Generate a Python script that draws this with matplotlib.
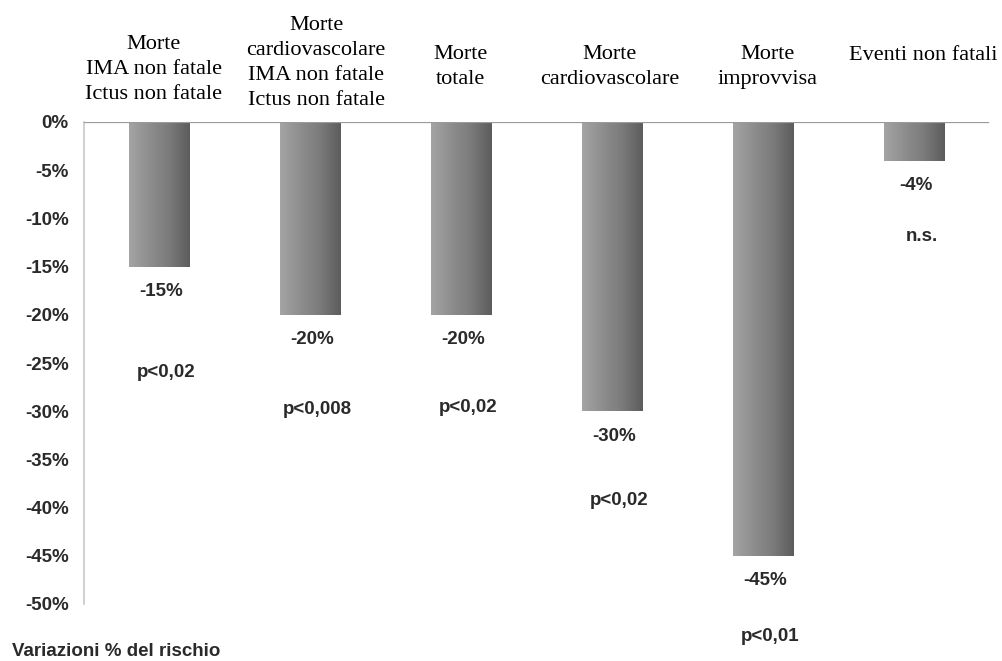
import matplotlib
matplotlib.use('Agg')
import matplotlib.pyplot as plt
import matplotlib.transforms as mtransforms
from matplotlib.colors import LinearSegmentedColormap
import numpy as np

# ---- data ----
categories = [
    'Morte\nIMA non fatale\nIctus non fatale',
    'Morte\ncardiovascolare\nIMA non fatale\nIctus non fatale',
    'Morte\ntotale',
    'Morte\ncardiovascolare',
    'Morte\nimprovvisa',
    'Eventi non fatali',
]
risk_change = [-15, -20, -20, -30, -45, -4]
p_values = ['p<0,02', 'p<0,008', 'p<0,02', 'p<0,02', 'p<0,01', 'n.s.']
y_ticks = [0, -5, -10, -15, -20, -25, -30, -35, -40, -45, -50]
y_tick_labels = [f'{v}%' for v in y_ticks]

# layout tweaks (not data): p-label offsets below bar end, category label placement
p_offsets_pt = [76, 68, 67, 64, 58, 55]
label_top_px = [35, 16, 45, 45, 45, 46]
label_dx_pt = [-4, 4, -1, -2, 3, 6]

W, H = 1002, 661
fig = plt.figure(figsize=(W / 100, H / 100), dpi=100)
ax = fig.add_axes([84 / W, 1 - 604 / H, (990 - 84) / W, (604 - 122) / H])

x = np.arange(len(categories))
bars = ax.bar(x, risk_change, width=0.4, color='#808080', zorder=2)

# horizontal grey gradient inside each bar
grad_cmap = LinearSegmentedColormap.from_list(
    'bar', ['#a4a4a4', '#8e8e8e', '#7a7a7a', '#5c5c5c'])
grad = np.linspace(0, 1, 256).reshape(1, -1)
for b in bars:
    x0, y0 = b.get_x(), b.get_y()
    bw, bh = b.get_width(), b.get_height()
    im = ax.imshow(grad, cmap=grad_cmap, aspect='auto', zorder=3,
                   extent=[x0, x0 + bw, y0 + bh, y0], interpolation='bicubic')
    im.set_clip_path(b)

ax.set_xlim(-0.5, len(categories) - 0.5)
ax.set_ylim(-50, 0)
ax.set_xticks([])
ax.set_yticks(y_ticks)
ax.set_yticklabels(y_tick_labels, fontsize=13.5, fontweight='bold',
                   color='#2a2a2a', family='Liberation Sans')
ax.tick_params(axis='y', length=0, pad=11)

for side in ('top', 'right', 'bottom'):
    ax.spines[side].set_visible(False)
ax.spines['left'].set_color('#c8c8c8')
ax.spines['left'].set_linewidth(1.2)
ax.axhline(0, color='#9a9a9a', lw=1.6, zorder=4, xmax=0.998)

txt_style = dict(fontsize=13.5, fontweight='bold', color='#2a2a2a',
                 family='Liberation Sans', ha='center', va='center')
for i, (v, p) in enumerate(zip(risk_change, p_values)):
    ax.annotate(f'{v}%', (x[i], v), xytext=(1, -18),
                textcoords='offset points', annotation_clip=False, **txt_style)
    ax.annotate(p, (x[i], v), xytext=(5, -p_offsets_pt[i]),
                textcoords='offset points', annotation_clip=False, **txt_style)

# category headers above the plot
base = mtransforms.blended_transform_factory(ax.transData, fig.transFigure)
for i, cat in enumerate(categories):
    trans = base + mtransforms.ScaledTranslation(label_dx_pt[i] / 72, 0,
                                                 fig.dpi_scale_trans)
    ax.text(x[i], 1 - label_top_px[i] / H, cat, transform=trans,
            ha='center', va='top', fontsize=16, family='Liberation Serif',
            color='black', linespacing=1.42, clip_on=False)

fig.text(12 / W, 1 - 652 / H, 'Variazioni % del rischio', ha='left',
         va='center', fontsize=13.5, fontweight='bold', color='#2a2a2a',
         family='Liberation Sans')

fig.savefig('out.png', dpi=100, facecolor='white')
